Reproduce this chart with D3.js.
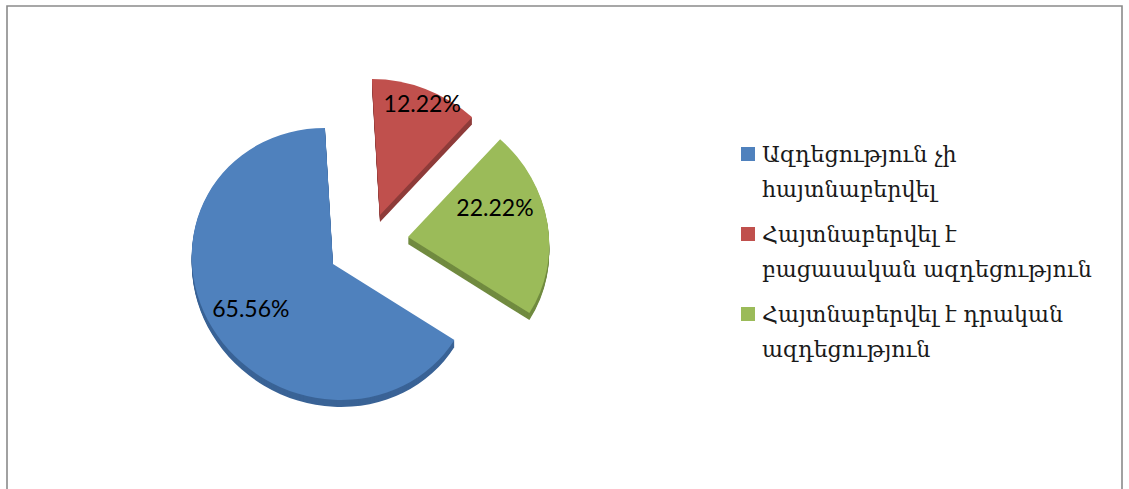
<!DOCTYPE html>
<html><head><meta charset="utf-8">
<script src="https://cdn.jsdelivr.net/npm/d3@7"></script>
<style>body{margin:0;background:#fff}svg{display:block}</style>
</head><body>
<svg id="c" width="1129" height="489"></svg>
<script>
const categories = ["Ազդեցություն չի հայտնաբերվել", "Հայտնաբերվել է բացասական ազդեցություն", "Հայտնաբերվել է դրական ազդեցություն"];
const legendLines = [["Ազդեցություն չի", "հայտնաբերվել"], ["Հայտնաբերվել է", "բացասական ազդեցություն"], ["Հայտնաբերվել է դրական", "ազդեցություն"]];
const values = [65.56, 12.22, 22.22];
const labels = ["65.56%", "12.22%", "22.22%"];
const colors = ["#4F81BD", "#C0504D", "#9BBB59"];
const sideColors = ["#3A6396", "#8E3B39", "#718B40"];

const svg = d3.select("#c");
// frame
svg.append("path").attr("d", "M7,489 L7,6 L1122,6 L1122,489")
  .attr("fill", "none").attr("stroke", "#8a8a8a").attr("stroke-width", 1.6);

const rad = Math.PI / 180;
const first = 124 * rad;
const pie = d3.pie().sort(null).value(d => d).startAngle(first).endAngle(first + 2 * Math.PI);
const arcs = pie(values);
const rx = 141, ry = 136, depth = 7, skew = 3.4;
const arc = d3.arc().innerRadius(0).outerRadius(rx);
// slice apex positions (exploded slices)
const centers = [[333, 264], [380, 215], [408, 237]];
// label positions: polar (deg, r) from slice apex
const labelPolar = [[242, 93], [20.6, 120], [71, 92]];

arcs.forEach((a, i) => {
  const [cx, cy] = centers[i];
  const g = svg.append("g");
  for (let t = depth; t >= 1; t--) {
    g.append("path").attr("d", arc(a))
      .attr("transform", `translate(${cx},${cy + t}) skewX(${skew}) scale(1,${ry / rx})`)
      .attr("fill", sideColors[i]);
  }
  g.append("path").attr("d", arc(a))
    .attr("transform", `translate(${cx},${cy}) skewX(${skew}) scale(1,${ry / rx})`)
    .attr("fill", colors[i]);
});

arcs.forEach((a, i) => {
  const [cx, cy] = centers[i];
  const [ang, r] = labelPolar[i];
  svg.append("text")
    .attr("x", cx + r * Math.sin(ang * rad))
    .attr("y", cy - r * Math.cos(ang * rad))
    .attr("text-anchor", "middle").attr("dominant-baseline", "central")
    .attr("font-family", "Lato, 'Open Sans', sans-serif").attr("font-size", 23)
    .attr("fill", "#000").text(labels[i]);
});

// legend
const lg = svg.append("g");
const legendFont = "'DejaVu Serif', serif";
const probe = lg.append("text").attr("font-family", legendFont).attr("font-size", 20).text(legendLines[1][1]);
const w = probe.node().getComputedTextLength();
probe.remove();
const fs = Math.min(24, 20 * 330 / w);
const ly = d3.scaleBand().domain(categories).range([147, 387]);
categories.forEach((c, i) => {
  const y0 = ly(c);
  lg.append("rect").attr("x", 741).attr("y", y0).attr("width", 14).attr("height", 14).attr("fill", colors[i]);
  legendLines[i].forEach((line, j) => {
    lg.append("text").attr("x", 762).attr("y", y0 + 15 + j * 35)
      .attr("font-family", legendFont).attr("font-size", fs)
      .attr("fill", "#1a1a1a").text(line);
  });
});
</script>
</body></html>
